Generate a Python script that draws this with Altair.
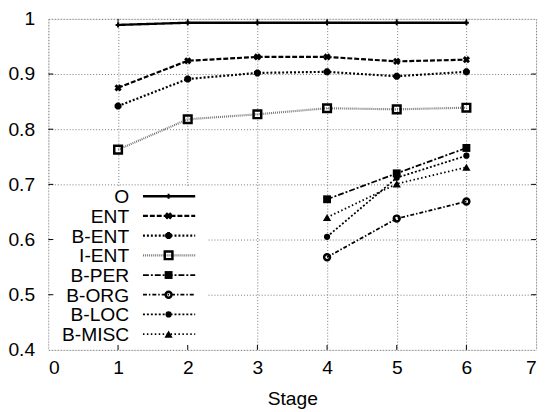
import altair as alt
import pandas as pd

stages = [1, 2, 3, 4, 5, 6]
series_names = ["O", "ENT", "B-ENT", "I-ENT", "B-PER", "B-ORG", "B-LOC", "B-MISC"]
o_vals = [0.989, 0.993, 0.993, 0.993, 0.993, 0.993]
ent_vals = [0.875, 0.924, 0.931, 0.931, 0.923, 0.926]
bent_vals = [0.842, 0.891, 0.902, 0.904, 0.896, 0.904]
ient_vals = [0.763, 0.818, 0.827, 0.838, 0.836, 0.839]
bper_vals = [None, None, None, 0.673, 0.720, 0.766]
borg_vals = [None, None, None, 0.568, 0.638, 0.669]
bloc_vals = [None, None, None, 0.605, 0.712, 0.752]
bmisc_vals = [None, None, None, 0.640, 0.701, 0.731]
x_ticks = [1, 2, 3, 4, 5, 6]
y_ticks = [0.5, 0.6, 0.7, 0.8, 0.9]

all_vals = [o_vals, ent_vals, bent_vals, ient_vals, bper_vals, borg_vals, bloc_vals, bmisc_vals]

ASTER = "M-1,0L1,0M0,-1L0,1M-0.7,-0.7L0.7,0.7M-0.7,0.7L0.7,-0.7"
styles = {
    "O": dict(color="black", dash=[1, 0], width=2.4, shape="cross", filled=True, size=25, angle=0, pstroke=1),
    "ENT": dict(color="black", dash=[5, 2], width=2.2, shape="cross", filled=True, size=55, angle=45, pstroke=1),
    "B-ENT": dict(color="black", dash=[2, 2], width=2.2, shape=ASTER, filled=False, size=50, angle=0, pstroke=3),
    "I-ENT": dict(color="#777777", dash=[1, 1], width=2.2, shape="square", filled=False, size=60, angle=0, pstroke=2.5),
    "B-PER": dict(color="black", dash=[6, 2, 2, 2], width=1.8, shape="square", filled=True, size=64, angle=0, pstroke=1),
    "B-ORG": dict(color="black", dash=[4, 2, 1.5, 2], width=1.8, shape="circle", filled=False, size=36, angle=0, pstroke=2.5),
    "B-LOC": dict(color="black", dash=[2, 2], width=1.8, shape="circle", filled=True, size=40, angle=0, pstroke=1),
    "B-MISC": dict(color="black", dash=[1.5, 2.5], width=1.8, shape="triangle-up", filled=True, size=70, angle=0, pstroke=1),
}

FONT = "Liberation Sans"
FS = 19.5
W, H = 495, 336

xs = alt.Scale(domain=[0, 7], nice=False, zero=False)
ys = alt.Scale(domain=[0.4, 1.0], nice=False, zero=False)
x_axis = alt.Axis(values=[0, 1, 2, 3, 4, 5, 6, 7], grid=True, gridDash=[1, 2], gridColor="#777777",
                  gridWidth=1, ticks=False, domain=False, labelFontSize=FS, labelPadding=9,
                  labelColor="black", title="Stage", titleFontSize=FS, titleFontWeight="normal",
                  titleColor="black", titlePadding=13, labelFont=FONT, titleFont=FONT)
y_axis = alt.Axis(values=[0.4, 0.5, 0.6, 0.7, 0.8, 0.9, 1.0], grid=True, gridDash=[1, 2], gridColor="#777777",
                  gridWidth=1, ticks=False, domain=False, labelFontSize=FS, labelPadding=14,
                  labelColor="black", title=None, format="~g", labelFont=FONT)

layers = []

# legend background
bg = alt.Chart(pd.DataFrame({"a": [0]})).mark_rect(color="white").encode(
    x=alt.value(1), x2=alt.value(161), y=alt.value(170), y2=alt.value(335))

for name, vals in zip(series_names, all_vals):
    st = styles[name]
    df = pd.DataFrame({"stage": stages, "value": vals, "series": name}).dropna()
    base = alt.Chart(df)
    line = base.mark_line(color=st["color"], strokeDash=st["dash"], strokeWidth=st["width"]).encode(
        x=alt.X("stage:Q", scale=xs, axis=x_axis),
        y=alt.Y("value:Q", scale=ys, axis=y_axis),
    )
    pt = base.mark_point(filled=st["filled"], color="black", shape=st["shape"], size=st["size"],
                         angle=st["angle"], strokeWidth=st["pstroke"], opacity=1).encode(
        x=alt.X("stage:Q", scale=xs, axis=x_axis), y=alt.Y("value:Q", scale=ys, axis=y_axis))
    layers += [line, pt]

# inward ticks (mirrored)
xt = alt.Chart(pd.DataFrame({"t": x_ticks}))
yt = alt.Chart(pd.DataFrame({"t": y_ticks}))
tick_layers = [
    xt.mark_rule(color="black").encode(x=alt.X("t:Q", scale=xs, axis=x_axis), y=alt.value(H), y2=alt.value(H - 5)),
    xt.mark_rule(color="black").encode(x=alt.X("t:Q", scale=xs, axis=x_axis), y=alt.value(0), y2=alt.value(5)),
    yt.mark_rule(color="black").encode(y=alt.Y("t:Q", scale=ys, axis=y_axis), x=alt.value(0), x2=alt.value(5)),
    yt.mark_rule(color="black").encode(y=alt.Y("t:Q", scale=ys, axis=y_axis), x=alt.value(W), x2=alt.value(W - 5)),
]

# custom legend (labels left, samples right)
leg_layers = []
for i, name in enumerate(series_names):
    st = styles[name]
    ld = alt.Chart(pd.DataFrame({"series": [name]}))
    ry = 180 + 20 * i
    leg_layers.append(ld.mark_text(align="right", baseline="middle", fontSize=FS, font=FONT, color="black").encode(
        text="series:N", x=alt.value(82), y=alt.value(ry + 1)))
    leg_layers.append(ld.mark_rule(color=st["color"], strokeDash=st["dash"], strokeWidth=st["width"]).encode(
        x=alt.value(96), x2=alt.value(149), y=alt.value(ry)))
    leg_layers.append(ld.mark_point(filled=st["filled"], color="black", shape=st["shape"], size=st["size"],
                                    angle=st["angle"], strokeWidth=st["pstroke"], opacity=1).encode(
        x=alt.value(122), y=alt.value(ry)))

chart = alt.layer(bg, *layers, *tick_layers, *leg_layers).properties(
    width=W, height=H,
    autosize=alt.AutoSizeParams(type="none"),
    padding={"left": 41, "top": 8, "right": 5, "bottom": 59},
).configure_view(stroke="#222222", strokeWidth=1.5).configure(background="white")

chart.save("out.html", embed_options={"renderer": "svg", "actions": False})
